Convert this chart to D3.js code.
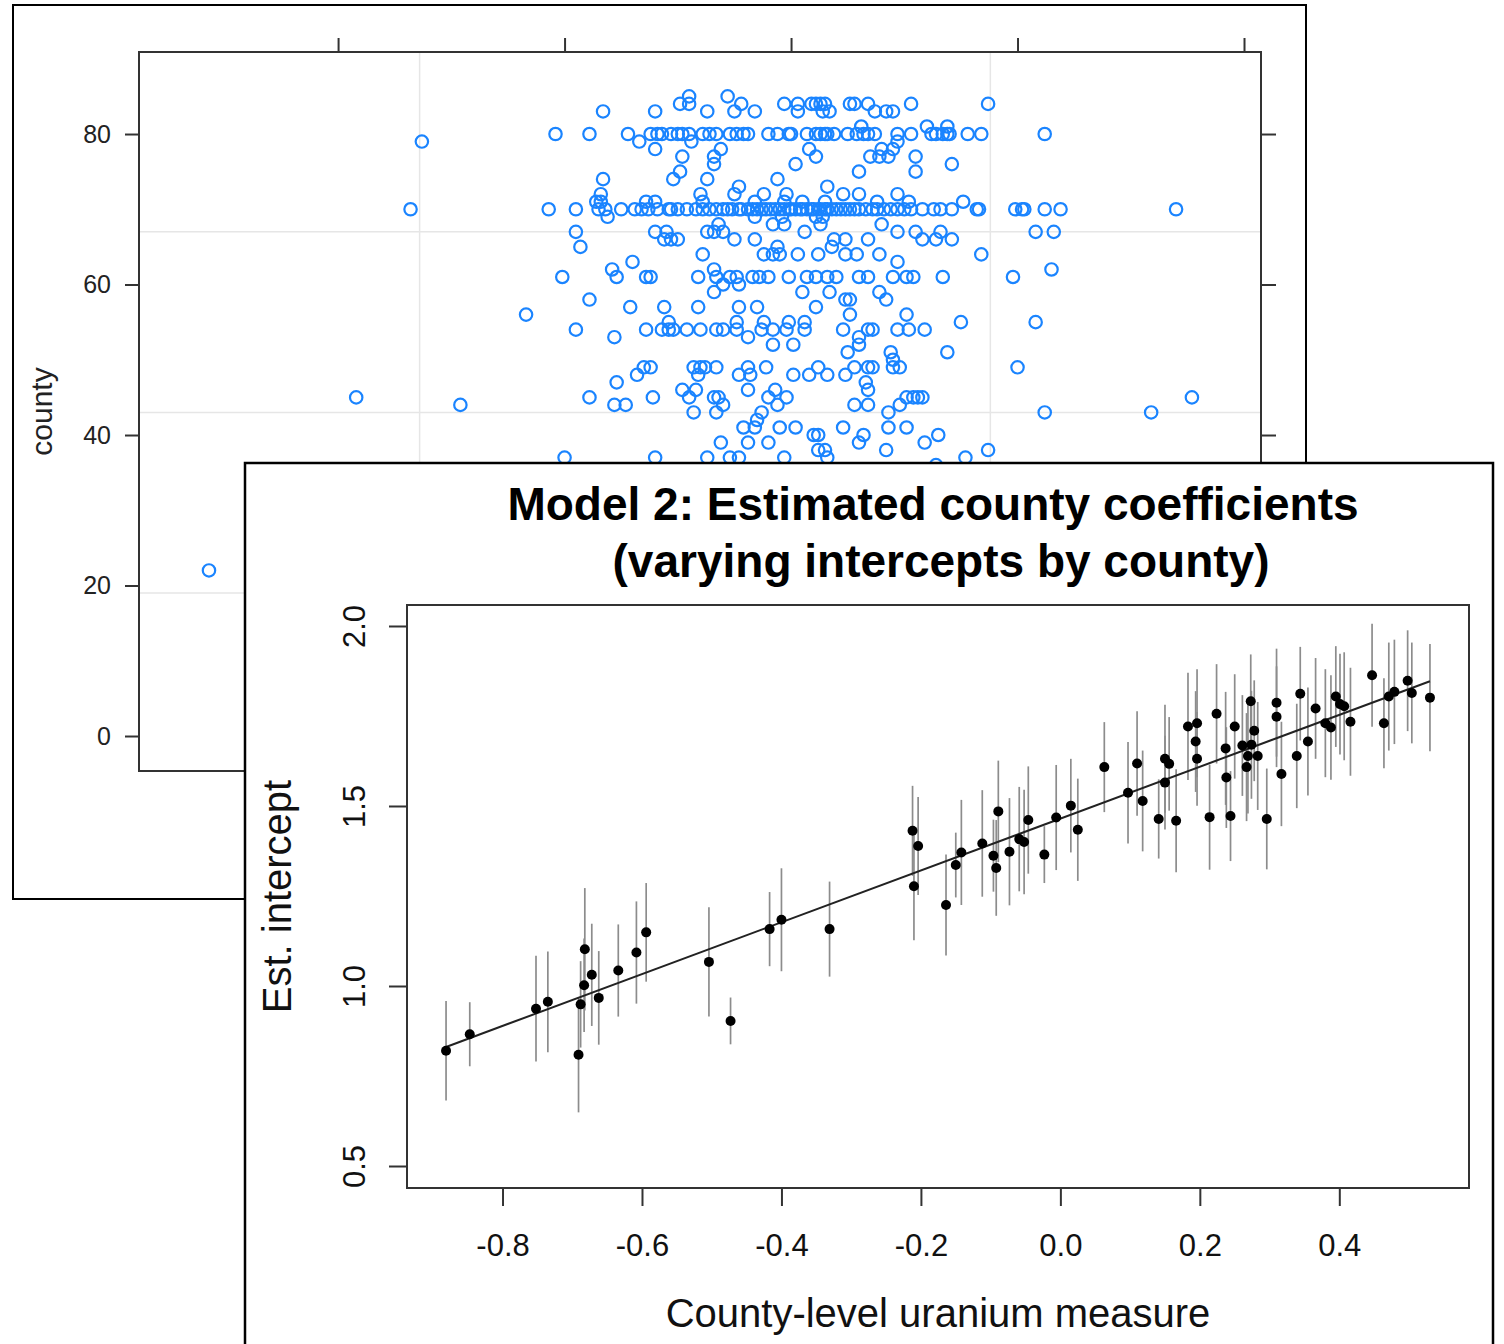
<!DOCTYPE html>
<html>
<head>
<meta charset="utf-8">
<script src="https://cdn.jsdelivr.net/npm/d3@7"></script>
<style>
  body { margin: 0; background: #fff; }
  svg { display: block; }
  text { font-family: "Liberation Sans", Arial, Helvetica, sans-serif; }
</style>
</head>
<body>
<svg id="chart" width="1504" height="1344"></svg>
<script>
// ---------- Back panel: observations by county (lattice-style dot plot) ----------
const backCounties = [85, 84, 83, 81, 80, 79, 78, 77, 76, 75, 74, 73, 72, 71, 70, 69, 68, 67, 66, 65, 64, 63, 62, 61, 60,
  59, 58, 57, 56, 55, 54, 53, 52, 51, 50, 49, 48, 47, 46, 45, 44, 43, 42, 41, 40, 39, 38, 37, 36, 22];
const backValues = [
  [-0.45, -0.28],
  [-0.49, -0.45, -0.22, -0.03, 0.03, 0.09, 0.11, 0.13, 0.15, 0.26, 0.28, 0.34, 0.53, 0.87],
  [-0.83, -0.60, -0.37, -0.25, -0.16, 0.03, 0.14, 0.17, 0.37, 0.42, 0.45],
  [0.31, 0.60, 0.69],
  [-1.04, -0.89, -0.72, -0.62, -0.59, -0.57, -0.53, -0.50, -0.48, -0.45, -0.39, -0.36, -0.33, -0.27, -0.24, -0.21, -0.19,
   -0.10, -0.06, -0.01, 0.00, 0.07, 0.11, 0.13, 0.15, 0.16, 0.19, 0.25, 0.29, 0.32, 0.34, 0.37, 0.47, 0.53, 0.62, 0.64,
   0.67, 0.69, 0.70, 0.78, 0.84, 1.12],
  [-1.63, -0.67, -0.44, 0.47],
  [-0.60, -0.31, 0.08, 0.40, 0.45],
  [-0.48, -0.34, 0.11, 0.35, 0.39, 0.43, 0.55],
  [-0.34, 0.02, 0.71],
  [-0.49, 0.30, 0.55],
  [-0.83, -0.52, -0.37, -0.06],
  [-0.23, 0.16],
  [-0.84, -0.40, -0.25, -0.12, -0.02, 0.23, 0.30, 0.47],
  [-0.86, -0.84, -0.64, -0.60, -0.39, -0.16, -0.03, 0.05, 0.15, 0.38, 0.52, 0.76],
  [-1.68, -1.07, -0.95, -0.85, -0.82, -0.75, -0.69, -0.66, -0.63, -0.59, -0.54, -0.53, -0.50, -0.46, -0.42, -0.39, -0.36,
   -0.33, -0.30, -0.28, -0.26, -0.23, -0.22, -0.19, -0.17, -0.15, -0.13, -0.11, -0.09, -0.07, -0.05, -0.03, -0.01, 0.00,
   0.02, 0.04, 0.05, 0.07, 0.09, 0.10, 0.12, 0.13, 0.15, 0.16, 0.18, 0.20, 0.22, 0.24, 0.26, 0.28, 0.30, 0.33, 0.36, 0.38,
   0.41, 0.44, 0.47, 0.50, 0.53, 0.58, 0.63, 0.66, 0.71, 0.82, 0.83, 0.99, 1.02, 1.03, 1.12, 1.19, 1.70],
  [-0.81, -0.16, -0.04, 0.11, 0.14],
  [-0.32, -0.08, -0.03, 0.13, 0.40],
  [-0.95, -0.60, -0.55, -0.37, -0.34, -0.30, 0.06, 0.47, 0.55, 0.66, 1.08, 1.16],
  [-0.56, -0.53, -0.50, -0.25, -0.16, 0.19, 0.24, 0.34, 0.58, 0.64, 0.71],
  [-0.93, -0.06, 0.18],
  [-0.39, -0.12, -0.08, -0.05, 0.03, 0.12, 0.24, 0.29, 0.39, 0.84],
  [-0.70, 0.47],
  [-0.79, -0.34, 1.15],
  [-1.01, -0.77, -0.64, -0.62, -0.41, -0.33, -0.27, -0.24, -0.17, -0.14, -0.10, -0.01, 0.07, 0.11, 0.16, 0.20, 0.30, 0.34,
   0.45, 0.51, 0.54, 0.67, 0.98],
  [-0.30, -0.23],
  [-0.34, 0.05, 0.17, 0.39],
  [-0.89, 0.24, 0.26, 0.42],
  [-0.71, -0.56, -0.41, -0.23, -0.15, 0.11],
  [-1.17, 0.26, 0.51],
  [-0.54, -0.24, -0.12, -0.01, 0.06, 0.75, 1.08],
  [-0.95, -0.64, -0.57, -0.54, -0.52, -0.46, -0.40, -0.33, -0.30, -0.24, -0.13, -0.08, -0.02, 0.06, 0.23, 0.34, 0.36,
   0.47, 0.52, 0.59],
  [-0.78, -0.19, 0.30],
  [-0.08, 0.01, 0.30],
  [0.25, 0.44, 0.69],
  [0.45],
  [-0.65, -0.62, -0.43, -0.40, -0.38, -0.33, -0.19, -0.11, 0.12, 0.28, 0.34, 0.36, 0.45, 0.48, 1.00],
  [-0.68, -0.41, -0.23, -0.18, 0.01, 0.08, 0.16, 0.24],
  [-0.77, 0.33],
  [-0.48, -0.42, -0.19, -0.07, 0.34],
  [-1.92, -0.89, -0.61, -0.45, -0.34, -0.32, -0.10, -0.02, 0.51, 0.54, 0.56, 0.58, 1.77],
  [-1.46, -0.78, -0.73, -0.30, -0.06, 0.28, 0.34, 0.48],
  [-0.43, -0.33, -0.13, 0.43, 1.12, 1.59],
  [-0.15],
  [-0.21, -0.16, -0.05, 0.02, 0.23, 0.43, 0.51],
  [0.10, 0.12, 0.32, 0.65],
  [-0.31, -0.19, -0.10, 0.30, 0.59],
  [0.12, 0.15, 0.42, 0.87],
  [-1.00, -0.60, -0.37, -0.27, -0.23, -0.03, 0.16, 0.77],
  [0.64],
  [-2.57]
];
const backXTicks = [-2, -1, 0, 1, 2];
const backYTicks = [0, 20, 40, 60, 80];
const backGridX = [-1.64, 0.88];
const backGridY = [67, 43, 19];

// ---------- Front panel: estimated county intercepts vs county uranium ----------
const uranium = [-0.881, -0.847, -0.752, -0.735, -0.688, -0.691, -0.682, -0.683, -0.672, -0.662, -0.634, -0.608, -0.594,
  -0.504, -0.473, -0.417, -0.400, -0.331, -0.212, -0.204, -0.210, -0.164, -0.150, -0.142, -0.112, -0.096, -0.092, -0.089,
  -0.073, -0.059, -0.052, -0.046, -0.023, -0.006, 0.015, 0.025, 0.063, 0.097, 0.110, 0.118, 0.141, 0.150, 0.156, 0.150,
  0.166, 0.183, 0.196, 0.194, 0.196, 0.214, 0.224, 0.237, 0.238, 0.244, 0.250, 0.261, 0.267, 0.269, 0.273, 0.274, 0.278,
  0.283, 0.296, 0.310, 0.310, 0.317, 0.339, 0.344, 0.355, 0.366, 0.380, 0.388, 0.395, 0.401, 0.407, 0.416, 0.447, 0.464,
  0.471, 0.479, 0.498, 0.504, 0.530];
const interceptEst = [0.820, 0.866, 0.937, 0.956, 0.949, 0.809, 1.102, 1.002, 1.031, 0.967, 1.043, 1.093, 1.149,
  1.067, 0.903, 1.158, 1.184, 1.158, 1.431, 1.389, 1.277, 1.225, 1.336, 1.371, 1.396, 1.362, 1.328, 1.485,
  1.373, 1.408, 1.400, 1.461, 1.365, 1.468, 1.501, 1.434, 1.608, 1.537, 1.618, 1.514, 1.464, 1.631, 1.617, 1.565,
  1.459, 1.721, 1.730, 1.679, 1.631, 1.469, 1.756, 1.660, 1.579, 1.472, 1.721, 1.668, 1.608, 1.639, 1.791, 1.670, 1.709,
  1.639, 1.464, 1.787, 1.748, 1.589, 1.639, 1.812, 1.679, 1.771, 1.730, 1.718, 1.804, 1.783, 1.777, 1.734, 1.863, 1.730,
  1.804, 1.817, 1.848, 1.814, 1.801];
const interceptSE = [0.138, 0.089, 0.147, 0.140, 0.120, 0.160, 0.170, 0.130, 0.142, 0.130, 0.128, 0.142, 0.137,
  0.152, 0.065, 0.103, 0.143, 0.132, 0.125, 0.136, 0.150, 0.140, 0.090, 0.146, 0.148, 0.100, 0.133, 0.141,
  0.149, 0.145, 0.145, 0.149, 0.079, 0.146, 0.130, 0.142, 0.125, 0.141, 0.145, 0.140, 0.110, 0.150, 0.130, 0.130,
  0.143, 0.149, 0.150, 0.140, 0.130, 0.146, 0.138, 0.157, 0.140, 0.125, 0.145, 0.140, 0.150, 0.160, 0.130, 0.150, 0.140,
  0.150, 0.140, 0.150, 0.140, 0.145, 0.145, 0.130, 0.150, 0.140, 0.150, 0.145, 0.140, 0.140, 0.150, 0.150, 0.143, 0.125,
  0.150, 0.145, 0.140, 0.140, 0.149];
const fitIntercept = 1.465;
const fitSlope = 0.72;
const frontXTicks = [-0.8, -0.6, -0.4, -0.2, 0.0, 0.2, 0.4];
const frontYTicks = [0.5, 1.0, 1.5, 2.0];
const titleLines = ["Model 2: Estimated county coefficients", "(varying intercepts by county)"];
const xLabel = "County-level uranium measure";
const yLabel = "Est. intercept";

const svg = d3.select("#chart");

// ===== back figure =====
const back = svg.append("g");
back.append("rect").attr("x", 13).attr("y", 5).attr("width", 1293).attr("height", 894)
  .attr("fill", "#fff").attr("stroke", "#000").attr("stroke-width", 2);

const bPanel = { left: 139, right: 1261, top: 52, bottom: 771 };
const bx = d3.scaleLinear().domain([-2.879, 2.075]).range([bPanel.left, bPanel.right]);
const by = d3.scaleLinear().domain([-4.65, 90.9]).range([bPanel.bottom, bPanel.top]);

back.selectAll("line.gx").data(backGridX).join("line").attr("class", "gx")
  .attr("x1", d => bx(d)).attr("x2", d => bx(d)).attr("y1", bPanel.top).attr("y2", bPanel.bottom)
  .attr("stroke", "#e6e6e6").attr("stroke-width", 1.5);
back.selectAll("line.gy").data(backGridY).join("line").attr("class", "gy")
  .attr("y1", d => by(d)).attr("y2", d => by(d)).attr("x1", bPanel.left).attr("x2", bPanel.right)
  .attr("stroke", "#e6e6e6").attr("stroke-width", 1.5);

const backPoints = backCounties.flatMap((c, i) => backValues[i].map(v => ({ c, v })));
back.append("g").selectAll("circle").data(backPoints).join("circle")
  .attr("cx", d => bx(d.v)).attr("cy", d => by(d.c)).attr("r", 6.2)
  .attr("fill", "none").attr("stroke", "#1a84ff").attr("stroke-width", 2.2);

back.append("rect").attr("x", bPanel.left).attr("y", bPanel.top)
  .attr("width", bPanel.right - bPanel.left).attr("height", bPanel.bottom - bPanel.top)
  .attr("fill", "none").attr("stroke", "#333").attr("stroke-width", 2);

function styleAxis(g, size) {
  g.select(".domain").remove();
  g.selectAll(".tick line").attr("stroke", "#333").attr("stroke-width", 2);
  g.selectAll(".tick text").attr("fill", "#222").style("font-size", size + "px");
}
back.append("g").attr("transform", `translate(${bPanel.left},0)`)
  .call(d3.axisLeft(by).tickValues(backYTicks).tickSize(14).tickPadding(14).tickFormat(d3.format("d")))
  .call(g => styleAxis(g, 25));
back.append("g").attr("transform", `translate(${bPanel.right},0)`)
  .call(d3.axisRight(by).tickValues(backYTicks).tickSize(15).tickFormat(""))
  .call(g => styleAxis(g, 25));
back.append("g").attr("transform", `translate(0,${bPanel.top})`)
  .call(d3.axisTop(bx).tickValues(backXTicks).tickSize(14).tickFormat(""))
  .call(g => styleAxis(g, 25));
back.append("g").attr("transform", `translate(0,${bPanel.bottom})`)
  .call(d3.axisBottom(bx).tickValues(backXTicks).tickSize(14).tickFormat(""))
  .call(g => styleAxis(g, 25));
back.append("text").attr("transform", `translate(52,${(bPanel.top + bPanel.bottom) / 2}) rotate(-90)`)
  .attr("text-anchor", "middle").attr("fill", "#222").style("font-size", "30px").text("county");

// ===== front figure =====
const front = svg.append("g");
front.append("rect").attr("x", 245).attr("y", 463).attr("width", 1248).attr("height", 900)
  .attr("fill", "#fff").attr("stroke", "#000").attr("stroke-width", 2.5);

const fPanel = { left: 407, right: 1469, top: 605, bottom: 1188 };
const fx = d3.scaleLinear().domain([-0.937, 0.586]).range([fPanel.left, fPanel.right]);
const fy = d3.scaleLinear().domain([0.4389, 2.0583]).range([fPanel.bottom, fPanel.top]);

const counties = uranium.map((u, i) => ({ u, est: interceptEst[i], se: interceptSE[i] }));

front.append("g").selectAll("line").data(counties).join("line")
  .attr("x1", d => fx(d.u)).attr("x2", d => fx(d.u))
  .attr("y1", d => fy(d.est - d.se)).attr("y2", d => fy(d.est + d.se))
  .attr("stroke", "#8c8c8c").attr("stroke-width", 1.7);

const [uMin, uMax] = d3.extent(uranium);
front.append("line")
  .attr("x1", fx(uMin)).attr("y1", fy(fitIntercept + fitSlope * uMin))
  .attr("x2", fx(uMax)).attr("y2", fy(fitIntercept + fitSlope * uMax))
  .attr("stroke", "#222").attr("stroke-width", 2);

front.append("g").selectAll("circle").data(counties).join("circle")
  .attr("cx", d => fx(d.u)).attr("cy", d => fy(d.est)).attr("r", 5).attr("fill", "#000");

front.append("rect").attr("x", fPanel.left).attr("y", fPanel.top)
  .attr("width", fPanel.right - fPanel.left).attr("height", fPanel.bottom - fPanel.top)
  .attr("fill", "none").attr("stroke", "#333").attr("stroke-width", 2);

front.append("g").attr("transform", `translate(0,${fPanel.bottom})`)
  .call(d3.axisBottom(fx).tickValues(frontXTicks).tickSize(18).tickPadding(28).tickFormat(d => d.toFixed(1)))
  .call(g => styleAxis(g, 31))
  .call(g => g.selectAll(".tick text").attr("fill", "#111"));

front.append("g").attr("transform", `translate(${fPanel.left},0)`)
  .call(d3.axisLeft(fy).tickValues(frontYTicks).tickSize(18).tickFormat(d => d.toFixed(1)))
  .call(g => styleAxis(g, 31))
  .call(g => g.selectAll(".tick text")
    .attr("x", null).attr("dy", null).attr("fill", "#111")
    .attr("text-anchor", "middle")
    .attr("transform", "translate(-42,0) rotate(-90)"));

const cx = (fPanel.left + fPanel.right) / 2;
front.append("g").selectAll("text").data(titleLines).join("text")
  .attr("x", (d, i) => cx + (i === 0 ? -5 : 3)).attr("y", (d, i) => 520 + i * 57)
  .attr("text-anchor", "middle").attr("fill", "#000")
  .style("font-size", "46px").style("font-weight", "bold").text(d => d);

front.append("text").attr("x", cx).attr("y", 1327).attr("text-anchor", "middle")
  .attr("fill", "#111").style("font-size", "40px").text(xLabel);
front.append("text").attr("transform", `translate(291,${(fPanel.top + fPanel.bottom) / 2}) rotate(-90)`)
  .attr("text-anchor", "middle").attr("fill", "#111").style("font-size", "40px").text(yLabel);
</script>
</body>
</html>
